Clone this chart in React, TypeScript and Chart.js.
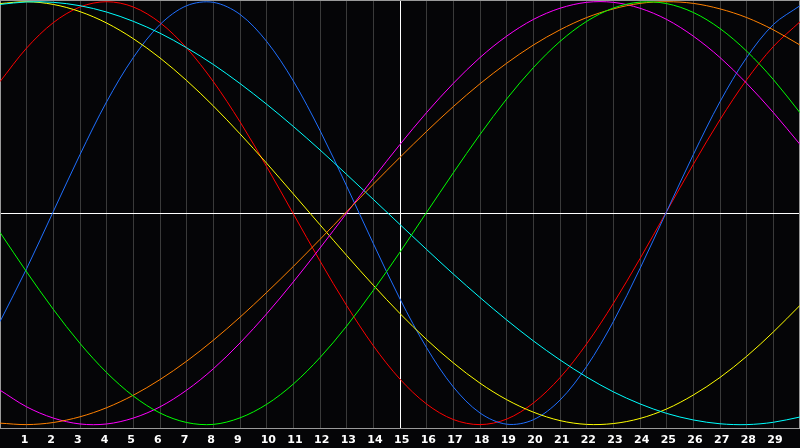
import React, { useEffect, useRef } from "react";
import { Chart, registerables } from "chart.js";

Chart.register(...registerables);

const xValues = [0,1,2,3,4,5,6,7,8,9,10,11,12,13,14,15,16,17,18,19,20,21,22,23,24,25,26,27,28,29,30];

const redSeries = [0.622,0.781,0.901,0.975,1.000,0.975,0.901,0.781,0.622,0.432,0.220,-0.003,-0.226,-0.437,-0.627,-0.785,-0.903,-0.976,-1.000,-0.974,-0.898,-0.778,-0.618,-0.427,-0.215,0.008,0.231,0.442,0.631,0.788,0.905];
const blueSeries = [-0.513,-0.262,0.008,0.277,0.527,0.736,0.892,0.981,0.997,0.940,0.812,0.625,0.391,0.128,-0.144,-0.406,-0.637,-0.822,-0.945,-0.998,-0.977,-0.884,-0.725,-0.513,-0.262,0.008,0.277,0.527,0.736,0.892,0.981];
const yellowSeries = [0.991,1.000,0.987,0.953,0.899,0.825,0.734,0.627,0.507,0.375,0.236,0.091,-0.055,-0.200,-0.341,-0.475,-0.598,-0.708,-0.804,-0.882,-0.941,-0.981,-0.999,-0.995,-0.971,-0.926,-0.860,-0.777,-0.677,-0.562,-0.436];
const cyanSeries = [0.987,0.999,0.997,0.981,0.951,0.907,0.851,0.782,0.703,0.613,0.515,0.410,0.299,0.183,0.065,-0.054,-0.172,-0.288,-0.399,-0.505,-0.604,-0.694,-0.775,-0.845,-0.902,-0.947,-0.978,-0.996,-1.000,-0.989,-0.964];
const magentaSeries = [-0.837,-0.916,-0.969,-0.997,-0.997,-0.969,-0.916,-0.837,-0.736,-0.614,-0.476,-0.325,-0.165,0.000,0.165,0.325,0.476,0.614,0.736,0.837,0.916,0.969,0.997,0.997,0.969,0.916,0.837,0.736,0.614,0.476,0.325];
const orangeSeries = [-0.993,-1.000,-0.990,-0.963,-0.920,-0.861,-0.787,-0.700,-0.601,-0.492,-0.375,-0.252,-0.124,0.007,0.137,0.264,0.387,0.504,0.612,0.709,0.795,0.867,0.925,0.966,0.992,1.000,0.992,0.966,0.925,0.867,0.795];
const greenSeries = [-0.091,-0.278,-0.455,-0.616,-0.754,-0.865,-0.945,-0.990,-0.999,-0.968,-0.904,-0.808,-0.683,-0.534,-0.365,-0.184,0.004,0.191,0.372,0.540,0.688,0.812,0.907,0.970,0.998,0.991,0.949,0.873,0.766,0.632,0.475];

const seriesList = [
  { name: "green", values: greenSeries, color: "#00ff00" },
  { name: "orange", values: orangeSeries, color: "#ff8000" },
  { name: "magenta", values: magentaSeries, color: "#ff00ff" },
  { name: "cyan", values: cyanSeries, color: "#00ffff" },
  { name: "yellow", values: yellowSeries, color: "#ffff00" },
  { name: "blue", values: blueSeries, color: "#1f6fff" },
  { name: "red", values: redSeries, color: "#ff0000" },
];

const X_MIN = 0;
const X_MAX = 30;
const CENTER_X = 15;

const backgroundPlugin = {
  id: "bgAndBorder",
  beforeDraw(chart: any) {
    const { ctx, width, height } = chart;
    ctx.save();
    ctx.fillStyle = "#050507";
    ctx.fillRect(0, 0, width, height);
    ctx.restore();
  },
  beforeDatasetsDraw(chart: any) {
    const { ctx, chartArea } = chart;
    ctx.save();
    ctx.strokeStyle = "#9a9a9a";
    ctx.lineWidth = 1;
    ctx.strokeRect(
      chartArea.left + 0.5,
      chartArea.top + 0.5,
      chartArea.right - chartArea.left - 1,
      chartArea.bottom - chartArea.top
    );
    ctx.restore();
  },
};

export default function App() {
  const canvasRef = useRef<HTMLCanvasElement | null>(null);

  useEffect(() => {
    document.body.style.margin = "0";
    const canvas = canvasRef.current;
    if (!canvas) return;
    const chart = new Chart(canvas, {
      type: "line",
      data: {
        datasets: seriesList.map((s) => ({
          label: s.name,
          data: s.values.map((v, i) => ({ x: xValues[i], y: v })),
          borderColor: s.color,
          borderWidth: 1,
          pointRadius: 0,
          tension: 0.33,
          fill: false,
        })),
      },
      options: {
        animation: false,
        responsive: false,
        devicePixelRatio: 1,
        layout: { padding: 0, autoPadding: false },
        plugins: {
          legend: { display: false },
          tooltip: { enabled: false },
        },
        scales: {
          x: {
            type: "linear",
            min: X_MIN,
            max: X_MAX,
            afterFit: (scale: any) => {
              scale.height = 20;
              scale.paddingLeft = 0;
              scale.paddingRight = 0;
            },
            border: { display: false },
            grid: {
              drawTicks: false,
              lineWidth: 1,
              color: (ctx: any) => {
                const v = ctx.tick ? ctx.tick.value : null;
                if (v === CENTER_X) return "#ffffff";
                if (v === X_MIN || v === X_MAX) return "rgba(0,0,0,0)";
                return "#3a3a3a";
              },
            },
            ticks: {
              stepSize: 1,
              autoSkip: false,
              maxRotation: 0,
              minRotation: 0,
              align: "start",
              labelOffset: -6,
              padding: 6,
              color: "#ffffff",
              font: { family: "'DejaVu Sans', sans-serif", size: 11, weight: "bold" },
              callback: (value: any) =>
                value === X_MIN || value === X_MAX ? "" : String(value),
            },
          },
          y: {
            type: "linear",
            min: -1.016,
            max: 1.008,
            afterFit: (scale: any) => {
              scale.width = 0;
              scale.paddingTop = 0;
              scale.paddingBottom = 0;
            },
            afterBuildTicks: (scale: any) => {
              scale.ticks = [{ value: 0 }];
            },
            border: { display: false },
            grid: {
              drawTicks: false,
              color: "#ffffff",
              lineWidth: 1,
            },
            ticks: { display: false },
          },
        },
      },
      plugins: [backgroundPlugin],
    } as any);
    return () => {
      chart.destroy();
    };
  }, []);

  return (
    <div style={{ position: "fixed", left: 0, top: 0, width: 800, height: 448, background: "#050507" }}>
      <canvas ref={canvasRef} width={800} height={448} style={{ display: "block", width: 800, height: 448 }} />
    </div>
  );
}
